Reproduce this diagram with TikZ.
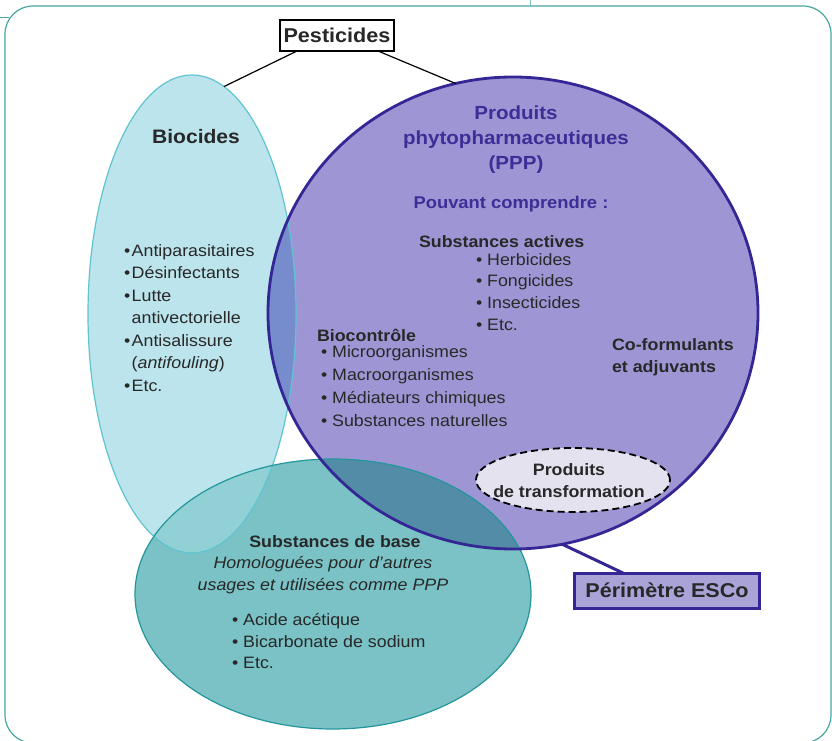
\documentclass[tikz,border=0pt]{standalone}
\usepackage{fontspec}
\setmainfont{Liberation Sans}[FakeStretch=1.08]
\usetikzlibrary{shapes.geometric}

\definecolor{ink}{RGB}{40,40,40}
\definecolor{framecol}{RGB}{70,165,160}
\definecolor{biofill}{RGB}{188,228,236}
\definecolor{bioedge}{RGB}{95,196,207}
\definecolor{pppfill}{RGB}{158,150,212}
\definecolor{pppedge}{RGB}{52,38,148}
\definecolor{pppink}{RGB}{60,46,150}
\definecolor{pppbox}{RGB}{169,163,216}
\definecolor{basefill}{RGB}{122,194,197}
\definecolor{baseedge}{RGB}{35,150,155}
\definecolor{biobase}{RGB}{145,208,213}
\definecolor{bioppp}{RGB}{118,140,204}
\definecolor{pppbase}{RGB}{82,140,166}
\definecolor{transfill}{RGB}{228,226,238}

\newcommand{\bul}{\textbullet\hspace{1.5pt}}
\newcommand{\nobul}{\phantom{\textbullet}\hspace{1.5pt}}

\begin{document}
\begin{tikzpicture}[x=1pt, y=-1pt,
    every node/.style={inner sep=0pt, outer sep=0pt},
    venn/.style={ellipse, draw, minimum width=#1},
    txt/.style={font=\fontsize{16.5}{22.5}\selectfont, text=ink},
    hd/.style={font=\fontsize{16.5}{22.5}\selectfont\bfseries, text=ink},
    link/.style={draw=black, line width=1.2pt}]
    \useasboundingbox (0,0) rectangle (832,741);

    % Frame
    \draw[framecol, line width=1.2pt, rounded corners=28pt] (5,6) rectangle (831,743);
    \draw[framecol, line width=1pt] (0,18) -- (9,18);
    \draw[framecol!70, line width=0.8pt] (530,0) -- (530,6);

    % Fills
    \fill[biofill] (192,314) ellipse [x radius=104, y radius=239];
    \fill[basefill] (333,594) ellipse [x radius=198, y radius=135];
    \fill[pppfill] (513,313) ellipse [x radius=245, y radius=236];

    % Overlaps
    \begin{scope}
        \clip (192,314) ellipse [x radius=104, y radius=239];
        \fill[biobase] (333,594) ellipse [x radius=198, y radius=135];
    \end{scope}
    \begin{scope}
        \clip (513,313) ellipse [x radius=245, y radius=236];
        \fill[bioppp] (192,314) ellipse [x radius=104, y radius=239];
        \fill[pppbase] (333,594) ellipse [x radius=198, y radius=135];
    \end{scope}

    % Borders
    \node[venn=208pt, minimum height=478pt, draw=bioedge, line width=1.2pt] (bio) at (192,314) {};
    \node[venn=396pt, minimum height=270pt, draw=baseedge, line width=1.2pt] (base) at (333,594) {};
    \node[venn=490pt, minimum height=472pt, draw=pppedge, line width=2.8pt] (ppp) at (513,313) {};

    % Pesticides
    \node[draw=black, line width=1.3pt, fill=white, minimum width=114pt, minimum height=31pt,
          font=\fontsize{20}{24}\selectfont\bfseries, text=ink] (pest) at (337,35.5) {Pesticides};
    \draw[link] ([xshift=-40pt]pest.south) -- (bio.82.6);
    \draw[link] ([xshift=41pt]pest.south) -- (ppp.104.7);

    % Biocides
    \node[hd, font=\fontsize{19.5}{24}\selectfont\bfseries, anchor=base] (bioT) at (196,143) {Biocides};
    \foreach \t [count=\i from 0] in {\bul Antiparasitaires, \bul Désinfectants, \bul Lutte,
        \nobul antivectorielle, \bul Antisalissure, \nobul(\textit{antifouling}), \bul Etc.}
        \node[txt, anchor=base west] (bioL\i) at (124,256+22.5*\i) {\t};

    % PPP
    \node[font=\fontsize{19}{25}\selectfont\bfseries, text=pppink, align=center, anchor=base] (pppT) at (516,169)
        {Produits\\phytopharmaceutiques\\(PPP)};
    \node[font=\fontsize{17}{22}\selectfont\bfseries, text=pppink, anchor=base] (pouv) at (511,208) {Pouvant comprendre :};

    \node[hd, anchor=base west] (actT) at (419,247) {Substances actives};
    \foreach \t [count=\i from 0] in {Herbicides, Fongicides, Insecticides, Etc.}
        \node[txt, anchor=base west] (act\i) at (476,265+21.7*\i) {\textbullet\ \t};

    \node[hd, anchor=base west] (bcT) at (317,341) {Biocontrôle};
    \foreach \t [count=\i from 0] in {Microorganismes, Macroorganismes, Médiateurs chimiques, Substances naturelles}
        \node[txt, anchor=base west] (bc\i) at (321,357+23*\i) {\textbullet\ \t};

    \node[hd, anchor=base west] (cof1) at (612,350) {Co-formulants};
    \node[hd, anchor=base west] (cof2) at (612,372) {et adjuvants};

    % Produits de transformation
    \node[ellipse, draw=black, dashed, dash pattern=on 7pt off 4pt, line width=1.8pt, fill=transfill,
          minimum width=194pt, minimum height=64pt] (trans) at (573,480) {};
    \node[hd, anchor=base] (trans1) at (569,475) {Produits};
    \node[hd, anchor=base] (trans2) at (569,497) {de transformation};

    % Substances de base
    \node[hd, anchor=base] (baseT) at (335,547) {Substances de base};
    \node[txt, anchor=base] (baseI1) at (323,568) {\itshape Homologuées pour d’autres};
    \node[txt, anchor=base] (baseI2) at (323,590) {\itshape usages et utilisées comme PPP};
    \foreach \t [count=\i from 0] in {Acide acétique, Bicarbonate de sodium, Etc.}
        \node[txt, anchor=base west] (baseL\i) at (232,625.5+21.5*\i) {\textbullet\ \t};

    % Perimetre ESCo
    \node[draw=pppedge, line width=3pt, fill=pppbox, minimum width=185pt, minimum height=35pt,
          font=\fontsize{20}{24}\selectfont\bfseries, text=ink] (peri) at (667,590.5) {Périmètre ESCo};
    \draw[pppedge, line width=3pt] (ppp.-78) -- ([xshift=-44pt]peri.north);
\end{tikzpicture}
\end{document}
